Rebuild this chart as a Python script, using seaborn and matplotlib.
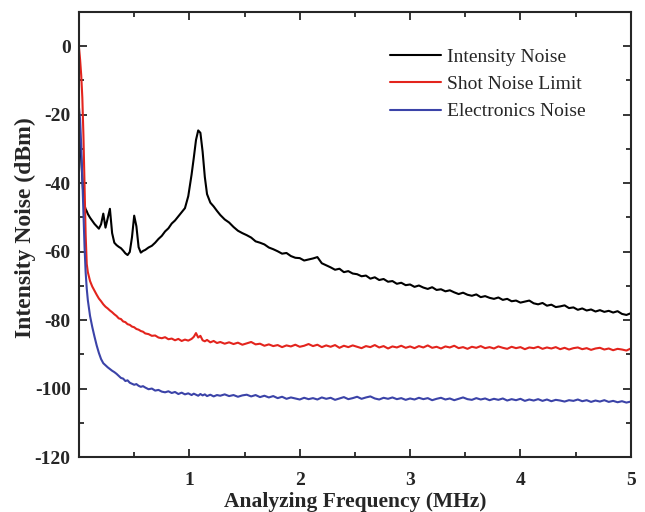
import numpy as np
import pandas as pd
import matplotlib
matplotlib.use('Agg')
import matplotlib.pyplot as plt
from matplotlib.ticker import MultipleLocator
import seaborn as sns

# analyzing frequency (MHz), shared by the three traces
freq = [
    0.00, 0.01, 0.02, 0.03, 0.04, 0.05, 0.06, 0.07, 0.08, 0.10,
    0.12, 0.14, 0.16, 0.18, 0.20, 0.22, 0.24, 0.26, 0.28, 0.30,
    0.32, 0.34, 0.36, 0.38, 0.40, 0.42, 0.44, 0.46, 0.48, 0.50,
    0.52, 0.54, 0.56, 0.58, 0.60, 0.63, 0.66, 0.69, 0.72, 0.75,
    0.78, 0.81, 0.84, 0.87, 0.90, 0.93, 0.96, 0.99, 1.02, 1.04,
    1.06, 1.08, 1.10, 1.12, 1.14, 1.16, 1.19, 1.22, 1.25, 1.28,
    1.32, 1.36, 1.40, 1.44, 1.48, 1.52, 1.56, 1.60, 1.64, 1.68,
    1.72, 1.76, 1.80, 1.84, 1.88, 1.92, 1.96, 2.00, 2.04, 2.08,
    2.12, 2.16, 2.20, 2.24, 2.28, 2.32, 2.36, 2.40, 2.44, 2.48,
    2.52, 2.56, 2.60, 2.64, 2.68, 2.72, 2.76, 2.80, 2.84, 2.88,
    2.92, 2.96, 3.00, 3.04, 3.08, 3.12, 3.16, 3.20, 3.24, 3.28,
    3.32, 3.36, 3.40, 3.44, 3.48, 3.52, 3.56, 3.60, 3.64, 3.68,
    3.72, 3.76, 3.80, 3.84, 3.88, 3.92, 3.96, 4.00, 4.04, 4.08,
    4.12, 4.16, 4.20, 4.24, 4.28, 4.32, 4.36, 4.40, 4.44, 4.48,
    4.52, 4.56, 4.60, 4.64, 4.68, 4.72, 4.76, 4.80, 4.84, 4.88,
    4.92, 4.96, 5.00,
]

intensity_noise = [
    -23.0, -27.5, -33.0, -39.0, -44.0, -46.5, -47.6, -48.2, -49.0, -50.1,
    -51.0, -51.9, -52.6, -53.3, -52.0, -48.9, -53.0, -50.2, -47.5, -54.6,
    -57.4, -58.1, -58.6, -59.0, -59.7, -60.5, -61.0, -60.1, -55.8, -49.5,
    -52.6, -58.7, -60.3, -59.8, -59.5, -58.8, -58.3, -57.4, -56.3, -55.4,
    -54.1, -53.2, -51.8, -50.9, -49.7, -48.5, -47.3, -43.8, -37.5, -32.6,
    -27.4, -24.6, -25.3, -30.8, -38.2, -43.2, -45.7, -46.8, -48.1, -49.3,
    -50.6, -51.5, -52.8, -53.9, -54.6, -55.2, -55.9, -57.0, -57.4, -57.9,
    -58.8, -59.3, -59.9, -60.6, -60.4, -61.3, -61.8, -61.9, -62.6, -62.3,
    -62.0, -61.6, -63.4, -64.0, -64.6, -65.3, -65.0, -66.0, -65.7, -66.4,
    -66.6, -67.2, -67.0, -67.9, -67.5, -68.3, -68.0, -68.8, -68.6, -69.4,
    -69.1, -69.8, -69.6, -70.3, -69.9, -70.5, -70.9, -70.4, -71.2, -71.0,
    -71.6, -71.3, -71.9, -72.4, -72.0, -72.6, -72.9, -72.5, -73.3, -73.0,
    -73.5, -73.8, -73.4, -74.1, -73.8, -74.5, -74.3, -74.9, -74.6, -74.3,
    -75.1, -75.4, -75.0, -75.8, -75.5, -76.2, -76.0, -75.7, -76.5, -76.3,
    -77.0, -76.6, -77.2, -76.9, -77.5, -77.1, -77.6, -77.3, -77.8, -77.4,
    -78.2, -78.5, -78.0,
]

shot_noise = [
    -0.5, -4.0, -8.5, -15.0, -26.0, -40.0, -55.0, -63.6, -66.0, -68.6,
    -70.2, -71.4, -72.6, -73.7, -74.5, -75.4, -76.1, -76.6, -77.2, -77.7,
    -78.3, -78.8, -79.5, -79.7, -80.4, -80.6, -81.2, -81.4, -81.9, -82.1,
    -82.6, -82.8, -83.2, -83.4, -83.9, -84.1, -84.6, -84.5, -85.1, -85.3,
    -85.0, -85.6, -85.4, -85.9, -85.5, -86.1, -85.7, -86.0, -85.5, -84.9,
    -83.8, -85.1, -84.6, -85.9, -86.2, -85.8, -86.5, -86.1, -86.7, -86.4,
    -86.9, -86.5, -87.0, -86.6, -87.2, -86.8, -86.4, -87.1, -86.9, -87.5,
    -87.1, -87.6, -87.3, -87.9, -87.4, -87.7, -87.2, -87.8, -87.5, -87.0,
    -87.6, -87.2, -87.9, -87.4, -87.8, -87.3, -88.1, -87.5, -87.9, -87.4,
    -87.8, -88.2, -87.6, -87.9, -87.3, -88.0, -87.6, -88.3, -87.7, -88.0,
    -87.5, -88.1, -87.7, -88.2, -87.6, -88.0, -87.4, -88.1, -87.8, -88.3,
    -87.7, -88.0, -87.5, -88.2, -87.9, -88.4, -87.8, -88.1, -87.6, -88.2,
    -87.9, -88.3, -87.7, -88.1, -88.4, -87.8, -88.2, -87.9, -88.5, -88.0,
    -88.2, -87.8, -88.4, -88.0, -88.3, -87.9, -88.5, -88.1, -88.6, -88.2,
    -88.0, -88.5, -88.2, -88.7, -88.3, -88.1, -88.6, -88.3, -88.8, -88.4,
    -88.6, -88.9, -88.3,
]

electronics_noise = [
    -18.0, -21.5, -29.0, -39.0, -49.0, -58.5, -66.0, -70.8, -74.2, -78.8,
    -82.0, -84.8, -87.4, -89.6, -91.4, -92.6, -93.2, -93.8, -94.3, -94.8,
    -95.2, -95.7, -96.3, -96.9, -97.1, -97.8, -97.6, -98.3, -98.6, -98.9,
    -98.7, -99.2, -99.5, -99.3, -99.7, -100.2, -100.0, -100.6, -100.4, -100.9,
    -101.1, -100.8, -101.3, -101.0, -101.6, -101.2, -101.7, -101.4, -101.9, -101.5,
    -101.8, -102.1, -101.6, -102.0, -101.7, -102.2, -101.8, -102.3, -101.9, -102.1,
    -101.7, -102.2, -101.9, -102.4, -102.0, -101.8, -102.3, -101.9, -102.5, -102.1,
    -102.6, -102.2, -102.8, -102.4, -103.0, -102.6, -102.9, -103.2, -102.7, -103.1,
    -102.8, -103.2, -102.6, -103.0, -102.7, -103.3, -102.9, -102.5, -103.1, -102.8,
    -102.4, -103.0, -102.6, -102.3, -102.9, -103.2, -102.7, -103.0, -102.6, -103.1,
    -102.8, -103.3, -102.9, -103.2, -102.7, -103.1, -102.8, -103.4, -103.0, -102.7,
    -103.2, -102.9, -103.4, -103.0, -102.6, -103.1, -103.3, -102.8, -103.2, -102.9,
    -103.4, -103.0, -103.3, -102.9, -103.5, -103.1, -103.4, -103.0, -103.6, -103.2,
    -103.5, -103.1, -103.6, -103.2, -103.7, -103.3, -103.5, -103.8, -103.4, -103.6,
    -103.2, -103.7, -103.4, -103.9, -103.5, -103.8, -103.4, -103.9, -103.6, -104.0,
    -103.7, -104.1, -103.8,
]

series_names = ["Intensity Noise", "Shot Noise Limit", "Electronics Noise"]
series_colors = ["#000000", "#e3241d", "#3b43a8"]

df = pd.DataFrame({
    "freq": freq * 3,
    "noise": intensity_noise + shot_noise + electronics_noise,
    "trace": [series_names[0]] * len(freq) + [series_names[1]] * len(freq) + [series_names[2]] * len(freq),
})

sns.set_style("ticks")
plt.rcParams['font.family'] = ['Liberation Serif', 'DejaVu Serif']
plt.rcParams['axes.unicode_minus'] = False

fig = plt.figure(figsize=(6.45, 5.12), dpi=100)
ax = fig.add_axes([0.1225, 0.1074, 0.8555, 0.8692])

sns.lineplot(data=df, x="freq", y="noise", hue="trace", hue_order=series_names,
             palette=series_colors, linewidth=1.5, sort=False, estimator=None, ax=ax)

ax.set_xlim(0, 5)
ax.set_ylim(-120, 10)
ax.set_xticks([1, 2, 3, 4, 5])
ax.xaxis.set_minor_locator(MultipleLocator(0.5))
ax.set_yticks([0, -20, -40, -60, -80, -100, -120])
ax.yaxis.set_minor_locator(MultipleLocator(10))
ax.tick_params(which='both', direction='in', top=True, right=True, width=1.3,
               labelsize=14)
ax.tick_params(axis='x', pad=11)
ax.tick_params(axis='y', pad=6)
ax.tick_params(which='major', length=6)
ax.tick_params(which='minor', length=3.5)
for lab in ax.get_xticklabels() + ax.get_yticklabels():
    lab.set_fontweight('bold')
for sp in ax.spines.values():
    sp.set_visible(True)
    sp.set_linewidth(1.5)

ax.set_xlabel("Analyzing Frequency (MHz)", fontsize=15.5, fontweight='bold', labelpad=2)
ax.set_ylabel("Intensity Noise (dBm)", fontsize=17, fontweight='bold', va='center')
ax.yaxis.set_label_coords(-0.097, 0.515)

leg = ax.legend(loc='upper left', frameon=False, fontsize=14, handlelength=2.6,
                handletextpad=0.3, labelspacing=0.5, bbox_to_anchor=(0.5325, 0.958))
for line in leg.get_lines():
    line.set_linewidth(1.5)

fig.savefig("out.png", dpi=100)
